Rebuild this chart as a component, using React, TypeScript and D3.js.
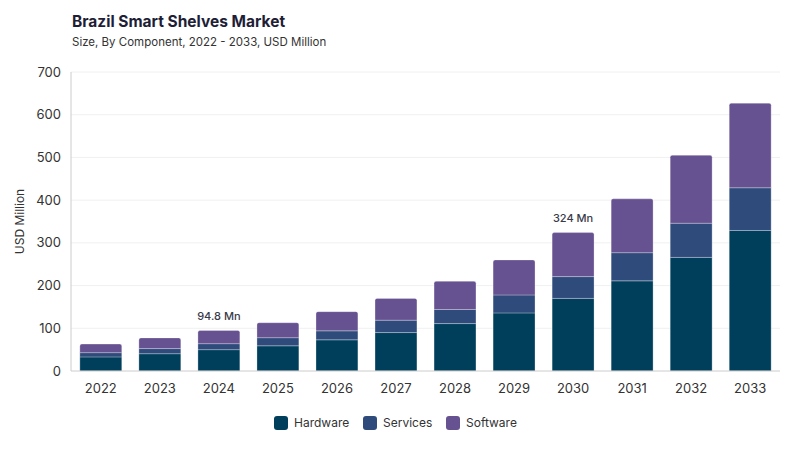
import * as React from 'react';
import * as d3 from 'd3';

const years = ['2022','2023','2024','2025','2026','2027','2028','2029','2030','2031','2032','2033'];
const hardware = [33, 40.5, 50, 59, 73, 90, 111, 136, 170, 211, 266, 329];
const services = [10, 12, 14, 19, 21, 29, 33, 42, 51, 66, 80, 100];
const software = [20, 25, 30.8, 35, 45, 51, 66, 82, 103, 126, 159, 198];
const seriesNames = ['Hardware', 'Services', 'Software'];
const colors = ['#003f5c', '#2f4b7c', '#665191'];
const yTicks = [0, 100, 200, 300, 400, 500, 600, 700];
const callouts: { year: string; label: string }[] = [
    { year: '2024', label: '94.8 Mn' },
    { year: '2030', label: '324 Mn' },
];

const W = 800, H = 450;
const margin = { top: 72, right: 20, bottom: 79, left: 71 };
const font = 'Inter, "Noto Sans", sans-serif';

const App: React.FC = () => {
    const x = d3.scaleBand().domain(years).range([margin.left, W - margin.right]).paddingInner(0.29).paddingOuter(0.15);
    const y = d3.scaleLinear().domain([0, 700]).range([H - margin.bottom, margin.top]);

    const rows = years.map((yr, i) => ({ year: yr, Hardware: hardware[i], Services: services[i], Software: software[i] }));
    const stacked = d3.stack<any>().keys(seriesNames)(rows);

    const totals = years.map((_, i) => hardware[i] + services[i] + software[i]);

    // legend layout
    const legendItems = [
        { name: 'Hardware', x: 274 },
        { name: 'Services', x: 363 },
        { name: 'Software', x: 446 },
    ];

    return (
        <svg width={W} height={H} style={{ position: 'absolute', left: 0, top: 0, background: '#fff' }}>
            <text x={72} y={27} fontFamily={font} fontSize={15.5} fontWeight={700} fill="#1e1e36">Brazil Smart Shelves Market</text>
            <text x={72} y={46} fontFamily={font} fontSize={11.5} fill="#333">Size, By Component, 2022 - 2033, USD Million</text>

            {yTicks.map(t => (
                <g key={t}>
                    {t > 0 && <line x1={margin.left} x2={W - margin.right} y1={y(t)} y2={y(t)} stroke="#f0f0f0" />}
                    <text x={61} y={y(t)} dy="0.35em" textAnchor="end" fontFamily={font} fontSize={13} fill="#333">{t}</text>
                </g>
            ))}
            <text transform={`translate(24,${(y(0) + y(700)) / 2}) rotate(-90)`} textAnchor="middle" fontFamily={font} fontSize={12} fill="#333">USD Million</text>

            {stacked.map((s, si) => (
                <g key={s.key}>
                    {s.map((d, i) => {
                        const bx = x(years[i])!;
                        const top = y(d[1]);
                        const h = y(d[0]) - y(d[1]);
                        const isTop = si === stacked.length - 1;
                        const r = isTop ? 2 : 0;
                        const bw = x.bandwidth();
                        const path = isTop
                            ? `M${bx},${top + h} V${top + r} Q${bx},${top} ${bx + r},${top} H${bx + bw - r} Q${bx + bw},${top} ${bx + bw},${top + r} V${top + h} Z`
                            : `M${bx},${top} H${bx + bw} V${top + h} H${bx} Z`;
                        return <path key={i} d={path} fill={colors[si]} stroke="#fff" strokeOpacity={0.35} strokeWidth={0.8} />;
                    })}
                </g>
            ))}

            <line x1={margin.left} x2={margin.left} y1={y(700)} y2={y(0)} stroke="#ccc" />
            <line x1={margin.left} x2={W - margin.right} y1={y(0)} y2={y(0)} stroke="#ccc" />

            {years.map(yr => (
                <text key={yr} x={x(yr)! + x.bandwidth() / 2} y={y(0) + 22} textAnchor="middle" fontFamily={font} fontSize={13} fill="#333">{yr}</text>
            ))}

            {callouts.map(c => {
                const i = years.indexOf(c.year);
                return (
                    <text key={c.year} x={x(c.year)! + x.bandwidth() / 2} y={y(totals[i]) - 11} textAnchor="middle" fontFamily={font} fontSize={11} fontWeight={500} fill="#3a3a4a">{c.label}</text>
                );
            })}

            {legendItems.map((l, i) => (
                <g key={l.name}>
                    <rect x={l.x} y={416} width={14} height={14} rx={3} fill={colors[i]} />
                    <text x={l.x + 20} y={423} dy="0.35em" fontFamily={font} fontSize={12} fill="#333">{l.name}</text>
                </g>
            ))}
        </svg>
    );
};

export default App;
